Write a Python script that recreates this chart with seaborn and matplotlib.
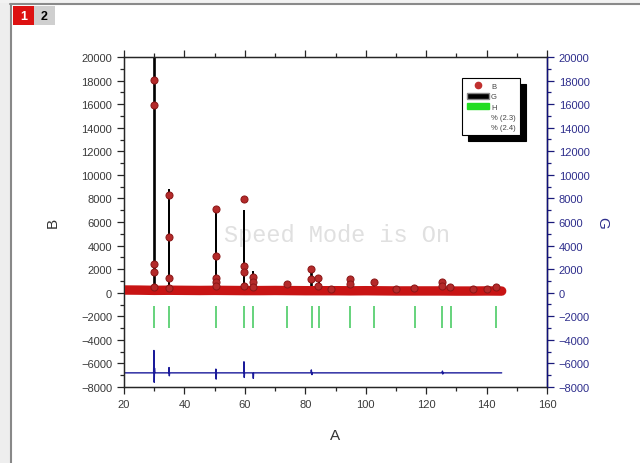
import matplotlib
matplotlib.use('Agg')
import matplotlib.pyplot as plt
import seaborn as sns
from matplotlib.lines import Line2D
from matplotlib.patches import Patch, Rectangle
from matplotlib.ticker import MultipleLocator

# -------------------------
# Data
# -------------------------
# observed pattern (B): background level every 5 deg
bg_x = [20, 25, 30, 35, 40, 45, 50, 55, 60, 65, 70, 75, 80, 85, 90, 95, 100,
        105, 110, 115, 120, 125, 130, 135, 140, 145]
bg_y = [230, 220, 200, 210, 200, 190, 200, 190, 180, 180, 190, 180, 170, 170,
        170, 160, 170, 160, 150, 150, 150, 150, 140, 140, 150, 140]

# observed points sitting on the peaks
obs_x = [30.0, 30.0, 30.0, 30.0, 30.0,
         34.9, 34.9, 34.9, 34.9,
         50.4, 50.4, 50.4, 50.4, 50.4,
         59.7, 59.7, 59.7, 59.7,
         62.7, 62.7, 62.7,
         73.9, 82.0, 82.0, 84.3, 84.3, 88.5, 94.7, 94.7, 102.6,
         110.0, 116.1, 125.1, 125.1, 128.0, 135.5, 140.0, 143.1]
obs_y = [18050, 15950, 2430, 1770, 470,
         8300, 4690, 1210, 390,
         7070, 3130, 1210, 870, 560,
         7920, 2280, 1770, 560,
         1300, 870, 500,
         730, 2000, 1150, 1210, 600, 350, 1150, 700, 920,
         300, 360, 920, 600, 450, 300, 280, 450]

# calculated profile (G): peak centre, top and half width
calc_pos = [30.0, 34.9, 50.4, 59.7, 62.7, 73.9, 82.1, 84.5, 94.9, 102.7,
            116.3, 125.4, 128.1, 143.0]
calc_top = [21500, 8750, 7150, 6900, 1770, 750, 1900, 1150, 1100, 900,
            350, 900, 430, 420]
calc_hw = [0.22, 0.12, 0.05, 0.05, 0.05, 0.05, 0.05, 0.05, 0.05, 0.05,
           0.05, 0.05, 0.05, 0.05]
calc_base = 150

# Bragg positions (H)
bragg_pos = [30.0, 34.9, 50.4, 59.7, 62.7, 73.9, 82.1, 84.5, 94.9, 102.7,
             116.3, 125.4, 128.1, 143.0]

# difference curve
diff_x = [20, 29.8, 29.9, 30.0, 30.1, 30.2,
          34.8, 34.9, 35.0, 35.1,
          50.3, 50.4, 50.5, 50.6,
          59.6, 59.7, 59.8, 59.9,
          62.6, 62.7, 62.8, 62.9,
          81.9, 82.0, 82.2, 82.3,
          125.3, 125.4, 125.5, 125.6,
          145]
diff_y = [-6800, -6800, -4900, -7600, -6400, -6800,
          -6800, -6350, -7050, -6800,
          -6800, -6480, -7330, -6800,
          -6800, -5860, -7190, -6800,
          -6800, -6900, -7270, -6800,
          -6800, -6550, -6950, -6800,
          -6800, -6650, -6900, -6800,
          -6800]

# calc path built from the peak lists (flat-topped narrow peaks)
path_x, path_y = [20], [calc_base]
for p, h, w in zip(calc_pos, calc_top, calc_hw):
    path_x += [p - w, p - w, p + w, p + w]
    path_y += [calc_base, h, h, calc_base]
path_x.append(146)
path_y.append(calc_base)

# -------------------------
# Plot
# -------------------------
sns.set_style('ticks')
plt.rcParams['font.family'] = ['Liberation Sans', 'DejaVu Sans']

fig = plt.figure(figsize=(6.4, 4.64), dpi=100)
ax = fig.add_axes([124 / 640, 1 - 388 / 464, 423 / 640, 330 / 464])

obs_red = '#c81414'
sns.lineplot(x=path_x, y=path_y, ax=ax, color='black', lw=1.2, sort=False,
             estimator=None, zorder=2)
sns.lineplot(x=bg_x, y=bg_y, ax=ax, color=obs_red, lw=6.8, sort=False,
             estimator=None, solid_capstyle='round', zorder=3)
sns.scatterplot(x=obs_x, y=obs_y, ax=ax, color='#b42a2a', edgecolor='#8a1616',
                s=26, linewidth=0.7, zorder=4)
ax.vlines(bragg_pos, -3000, -1100, color='#4ccc66', lw=1.2, zorder=2)
sns.lineplot(x=diff_x, y=diff_y, ax=ax, color='#1a1a9a', lw=1.0, sort=False,
             estimator=None, zorder=2)

ax.set_xlim(20, 160)
ax.set_ylim(-8000, 20000)
ax.xaxis.set_major_locator(MultipleLocator(20))
ax.xaxis.set_minor_locator(MultipleLocator(10))
ax.yaxis.set_major_locator(MultipleLocator(2000))
ax.yaxis.set_minor_locator(MultipleLocator(1000))
ax.tick_params(which='both', direction='out', top=True, labelsize=8,
               labelcolor='#3a3a3a', width=0.9)
ax.tick_params(which='major', length=5)
ax.tick_params(which='minor', length=3)
for s in ax.spines.values():
    s.set_linewidth(1.0)
    s.set_color('#222222')

ax.set_xlabel('A', fontsize=11, color='#333333')
ax.set_ylabel('B', fontsize=11, color='#333333')
ax.xaxis.set_label_coords(0.5, -0.125)
ax.yaxis.set_label_coords(-0.152, 0.5)

ax2 = ax.twinx()
ax2.set_ylim(-8000, 20000)
ax2.yaxis.set_major_locator(MultipleLocator(2000))
ax2.yaxis.set_minor_locator(MultipleLocator(1000))
ax2.tick_params(which='both', direction='out', labelsize=8,
                labelcolor='#2e2e8c', color='#1a1a7a', width=0.9)
ax2.tick_params(which='major', length=5)
ax2.tick_params(which='minor', length=3)
ax2.spines['right'].set_color('#10107a')
ax2.spines['right'].set_linewidth(1.0)
ax2.set_ylabel('G', fontsize=11, color='#2e2e8c', rotation=270)
ax2.yaxis.set_label_coords(1.147, 0.5)

# watermark
ax.text(90.4, 4970, 'Speed Mode is On', family='Liberation Mono', fontsize=17,
        color='#e0e0e0', ha='center', va='center', zorder=1)

# legend
handles = [
    Line2D([], [], marker='o', color='#c0302e', linestyle='none', markersize=4.5),
    Patch(facecolor='black', edgecolor='#888888'),
    Patch(facecolor='#22dd22', edgecolor='#22dd22'),
    Line2D([], [], linestyle='none'),
    Line2D([], [], linestyle='none'),
]
labels = ['B', 'G', 'H', '% (2.3)', '% (2.4)']
leg = ax2.legend(handles, labels, loc='upper left', bbox_to_anchor=(0.79, 0.948),
                 fontsize=5.5, handlelength=2.9, handleheight=0.9,
                 labelspacing=0.3, borderpad=0.6, handletextpad=0.3,
                 fancybox=False, framealpha=1, edgecolor='black',
                 shadow={'ox': 4, 'oy': -4, 'color': 'black', 'alpha': 1})
leg.get_frame().set_linewidth(0.8)
for t in leg.get_texts():
    t.set_color('#444444')

# window chrome
def px(x, y):
    return x / 640, 1 - y / 464

fig.add_artist(Rectangle((0, 0), 10 / 640, 1, transform=fig.transFigure,
                         facecolor='#eeeeee', edgecolor='none'))
fig.add_artist(Line2D([11 / 640, 11 / 640], [0, px(0, 5)[1]],
                      transform=fig.transFigure, color='#888888', lw=1.5))
fig.add_artist(Rectangle(px(0, 4), 1, 4 / 464, transform=fig.transFigure,
                         facecolor='#f2f2f2', edgecolor='none'))
fig.add_artist(Line2D([10 / 640, 1], [px(0, 5)[1]] * 2,
                      transform=fig.transFigure, color='#8a8a8a', lw=1.5))
fig.add_artist(Rectangle(px(13, 26), 21 / 640, 19 / 464, transform=fig.transFigure,
                         facecolor='#dd1111', edgecolor='none'))
fig.add_artist(Rectangle(px(34, 26), 21 / 640, 19 / 464, transform=fig.transFigure,
                         facecolor='#cfcfcf', edgecolor='none'))
fig.text(*px(23.5, 16.5), '1', color='white', fontsize=9, fontweight='bold',
         ha='center', va='center')
fig.text(*px(44.5, 16.5), '2', color='black', fontsize=9, fontweight='bold',
         ha='center', va='center')

fig.savefig('out.png', dpi=100)
